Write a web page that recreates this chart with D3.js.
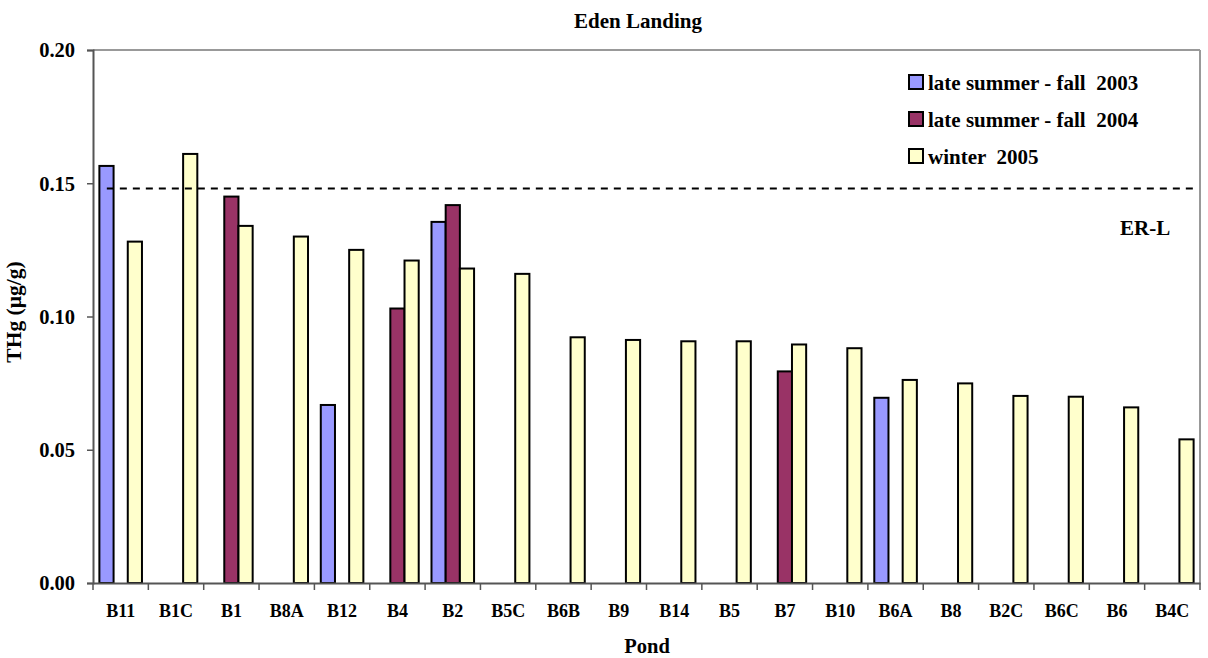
<!DOCTYPE html>
<html><head><meta charset="utf-8">
<script src="https://cdn.jsdelivr.net/npm/d3@7"></script>
<style>body{margin:0;background:#fff}svg{display:block}text{font-family:"Liberation Serif","Times New Roman",serif;font-weight:bold;fill:#000}</style>
</head><body><svg id="c" width="1208" height="658"></svg>
<script>
const categories = ["B11","B1C","B1","B8A","B12","B4","B2","B5C","B6B","B9","B14","B5","B7","B10","B6A","B8","B2C","B6C","B6","B4C"];
const seriesNames = ["late summer - fall  2003","late summer - fall  2004","winter  2005"];
const fall2003 = [0.1565,null,null,null,0.0668,null,0.1355,null,null,null,null,null,null,null,0.0695,null,null,null,null,null];
const fall2004 = [null,null,0.145,null,null,0.103,0.1418,null,null,null,null,null,0.0794,null,null,null,null,null,null,null];
const winter2005 = [0.1281,0.161,0.134,0.130,0.125,0.121,0.118,0.116,0.0922,0.0912,0.0907,0.0907,0.0895,0.0881,0.0762,0.0749,0.0702,0.0699,0.0659,0.0539];
const yTicks = [0, 0.05, 0.10, 0.15, 0.20];
const erl = 0.148;
const colors = ["#9999FF","#993366","#FFFFCC"];

const svg = d3.select("#c");
const L = 93, R = 1200, T = 50, B = 583;
const x = d3.scaleBand().domain(categories).range([L, R]).paddingInner(0).paddingOuter(0);
const y = d3.scaleLinear().domain([0, 0.2]).range([B, T]);
const gap = 0.9;
const bw = x.bandwidth() / (3 + gap);
const sub = d3.scaleBand().domain([0,1,2]).range([bw*gap/2, bw*gap/2 + 3*bw]);

// plot frame lines
svg.append("line").attr("x1",L).attr("x2",R).attr("y1",T).attr("y2",T).attr("stroke","#999").attr("stroke-width",2);
svg.append("line").attr("x1",R).attr("x2",R).attr("y1",T).attr("y2",B).attr("stroke","#999").attr("stroke-width",2);

const data = [fall2003, fall2004, winter2005];
data.forEach((arr, si) => {
  svg.append("g").selectAll("rect").data(categories.map((c,i)=>({c, v: arr[i]})).filter(d=>d.v!=null))
    .join("rect")
    .attr("x", d => x(d.c) + sub(si))
    .attr("width", bw)
    .attr("y", d => y(d.v))
    .attr("height", d => B - y(d.v))
    .attr("fill", colors[si]).attr("stroke","#000").attr("stroke-width",2);
});

// ER-L line
svg.append("line").attr("x1", x(categories[0]) + x.bandwidth()*0.25).attr("x2", R-5)
  .attr("y1", y(erl)).attr("y2", y(erl)).attr("stroke","#000").attr("stroke-width",2).attr("stroke-dasharray","7,6");
svg.append("text").attr("x",1120).attr("y",235).attr("font-size",21).text("ER-L");

// y axis
const ya = svg.append("g").attr("transform",`translate(${L},0)`)
  .call(d3.axisLeft(y).tickValues(yTicks).tickFormat(d3.format(".2f")).tickSize(6).tickPadding(12));
ya.select(".domain").attr("stroke","#555").attr("stroke-width",2);
ya.selectAll(".tick line").attr("stroke","#555").attr("stroke-width",1.5);
ya.selectAll(".tick text").attr("font-size",20.5).attr("dy","0.34em").attr("font-family","Liberation Serif").attr("font-weight","bold").attr("fill","#000");

// x axis
const xa = svg.append("g").attr("transform",`translate(0,${B})`)
  .call(d3.axisBottom(x).tickSize(0).tickPadding(0));
xa.select(".domain").attr("stroke","#555").attr("stroke-width",2);
xa.selectAll(".tick text").attr("font-size",18).attr("dy",null).attr("y",34).attr("font-family","Liberation Serif").attr("font-weight","bold").attr("fill","#000");
svg.append("g").selectAll("line").data(d3.range(categories.length+1)).join("line")
  .attr("x1", i => L + i*x.bandwidth()).attr("x2", i => L + i*x.bandwidth())
  .attr("y1", B).attr("y2", B+7).attr("stroke","#555").attr("stroke-width",1.5);

// titles
svg.append("text").attr("x",638).attr("y",28).attr("text-anchor","middle").attr("font-size",21).text("Eden Landing");
svg.append("text").attr("x",647).attr("y",653).attr("text-anchor","middle").attr("font-size",20.5).text("Pond");
svg.append("text").attr("transform","translate(21,312) rotate(-90)").attr("text-anchor","middle").attr("font-size",21.5).text("THg (µg/g)");

// legend
const lg = svg.append("g");
seriesNames.forEach((n,i) => {
  const cy = 82 + i*37;
  lg.append("rect").attr("x",909).attr("y",cy-7).attr("width",14).attr("height",14).attr("fill",colors[i]).attr("stroke","#000").attr("stroke-width",2);
  lg.append("text").attr("x",928).attr("y",cy+8).attr("font-size",21).style("white-space","pre").text(n);
});
</script></body></html>
